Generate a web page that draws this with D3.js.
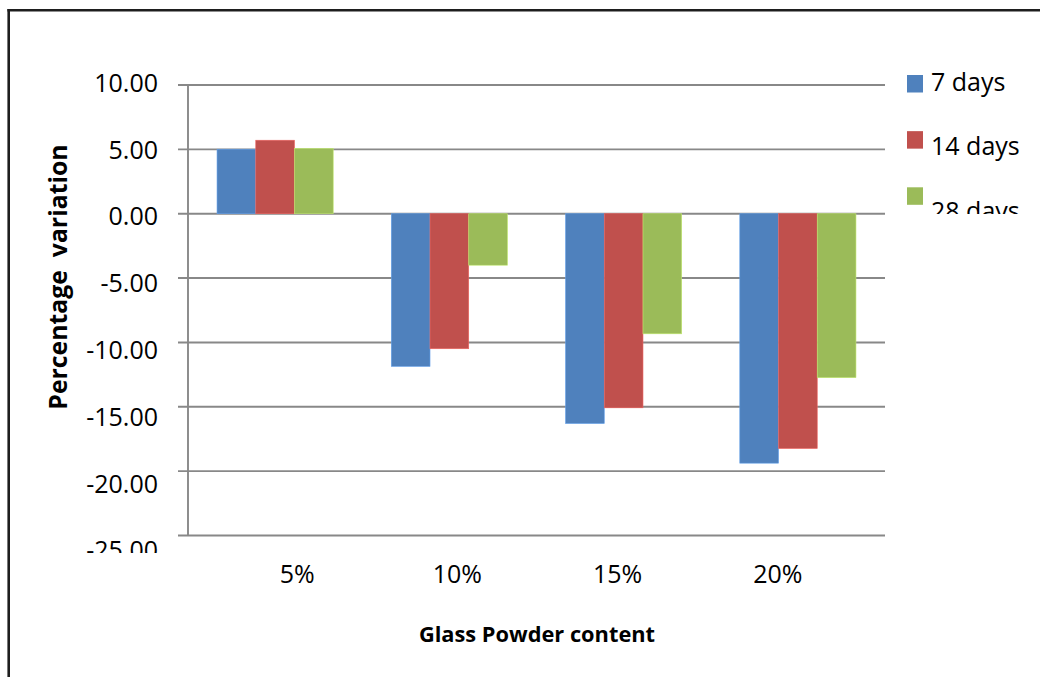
<!DOCTYPE html>
<html>
<head>
<meta charset="utf-8">
<script src="https://cdn.jsdelivr.net/npm/d3@7"></script>
<style>
  html, body { margin: 0; padding: 0; background: #fff; }
  svg { display: block; }
  text { font-family: "Open Sans", "Noto Sans", sans-serif; fill: #000; }
</style>
</head>
<body>
<svg id="chart" width="1040" height="677"></svg>
<script>
// Glass powder content groups and the three curing ages
const categories = ["5%", "10%", "15%", "20%"];
const seriesNames = ["7 days", "14 days", "28 days"];
const days7 = [5.01, -11.86, -16.30, -19.38];
const days14 = [5.71, -10.49, -15.08, -18.24];
const days28 = [5.07, -4.00, -9.33, -12.74];
const seriesValues = [days7, days14, days28];
const seriesColors = ["#4F81BD", "#C0504D", "#9BBB59"];
const yTicks = [10, 5, 0, -5, -10, -15, -20, -25];
const yTickLabels = ["10.00", "5.00", "0.00", "-5.00", "-10.00", "-15.00", "-20.00", "-25.00"];

const svg = d3.select("#chart");

// plot area
const plot = { left: 188, right: 885, top: 85, bottom: 535.5 };

const y = d3.scaleLinear().domain([-25, 10]).range([plot.bottom, plot.top]);
const x = d3.scaleBand().domain(categories).range([plot.left, plot.right]).padding(0);
const xs = d3.scaleBand().domain(seriesNames).range([0, x.bandwidth()])
  .paddingInner(0).paddingOuter(0.75);

// tick labels sit on their own slightly stretched scales
const yLabel = d3.scaleLinear().domain([-25, 10]).range([550.5, 83]);
const xLabel = d3.scaleBand().domain(categories).range([217, 858]);

// outer frame (left and top edges)
svg.append("line").attr("x1", 8.7).attr("x2", 8.7).attr("y1", 9).attr("y2", 677)
  .attr("stroke", "#1e1e1e").attr("stroke-width", 2.6);
svg.append("line").attr("x1", 7.4).attr("x2", 1040).attr("y1", 10.3).attr("y2", 10.3)
  .attr("stroke", "#1e1e1e").attr("stroke-width", 2.6);

// gridlines with short ticks on the left
const grid = svg.append("g");
grid.selectAll("line.g").data(yTicks).join("line")
  .attr("class", "g")
  .attr("x1", plot.left - 10).attr("x2", plot.right)
  .attr("y1", d => y(d)).attr("y2", d => y(d))
  .attr("stroke", "#888888").attr("stroke-width", 1.9);

// vertical axis
svg.append("line").attr("x1", plot.left).attr("x2", plot.left)
  .attr("y1", y(10)).attr("y2", y(-25))
  .attr("stroke", "#888888").attr("stroke-width", 1.9);

// bars
const groups = svg.append("g").selectAll("g").data(categories).join("g")
  .attr("transform", d => `translate(${x(d)},0)`);
groups.selectAll("rect").data((c, i) => seriesNames.map((s, k) => ({ s, k, v: seriesValues[k][i] })))
  .join("rect")
  .attr("x", d => xs(d.s))
  .attr("width", xs.bandwidth())
  .attr("y", d => y(Math.max(0, d.v)))
  .attr("height", d => Math.abs(y(d.v) - y(0)))
  .attr("fill", d => seriesColors[d.k])
  .attr("stroke", d => d3.color(seriesColors[d.k]).brighter(0.6))
  .attr("stroke-width", 0.6);

// y tick labels (the lowest one is cut off at the bottom)
const defs = svg.append("defs");
defs.append("clipPath").attr("id", "yclip").append("rect")
  .attr("x", 0).attr("y", 0).attr("width", 180).attr("height", 553);
svg.append("g").attr("clip-path", "url(#yclip)")
  .selectAll("text").data(yTicks).join("text")
  .attr("x", 158).attr("y", d => yLabel(d) + 8.9)
  .attr("text-anchor", "end").attr("font-size", 25)
  .text((d, i) => yTickLabels[i]);

// category labels
svg.append("g").selectAll("text").data(categories).join("text")
  .attr("x", d => xLabel(d) + xLabel.bandwidth() / 2).attr("y", 583.3)
  .attr("text-anchor", "middle").attr("font-size", 25)
  .text(d => d);

// axis titles
svg.append("text")
  .attr("transform", "translate(67,277) rotate(-90)")
  .attr("text-anchor", "middle").attr("font-size", 24.8).attr("font-weight", 700)
  .style("white-space", "pre")
  .text("Percentage  variation");
svg.append("text")
  .attr("x", 537).attr("y", 641.7)
  .attr("text-anchor", "middle").attr("font-size", 21.8).attr("font-weight", 700)
  .text("Glass Powder content");

// legend (last entry is clipped by the legend box)
defs.append("clipPath").attr("id", "legclip").append("rect")
  .attr("x", 895).attr("y", 50).attr("width", 145).attr("height", 164);
const legSquare = d3.scalePoint().domain(seriesNames).range([75, 187.3]);
const legText = d3.scalePoint().domain(seriesNames).range([90.7, 220]);
const leg = svg.append("g").attr("clip-path", "url(#legclip)");
leg.selectAll("rect").data(seriesNames).join("rect")
  .attr("x", 907).attr("y", d => legSquare(d))
  .attr("width", 16).attr("height", 17.5)
  .attr("fill", (d, i) => seriesColors[i]);
leg.selectAll("text").data(seriesNames).join("text")
  .attr("x", 931).attr("y", d => legText(d))
  .attr("font-size", 25)
  .text(d => d);
</script>
</body>
</html>
